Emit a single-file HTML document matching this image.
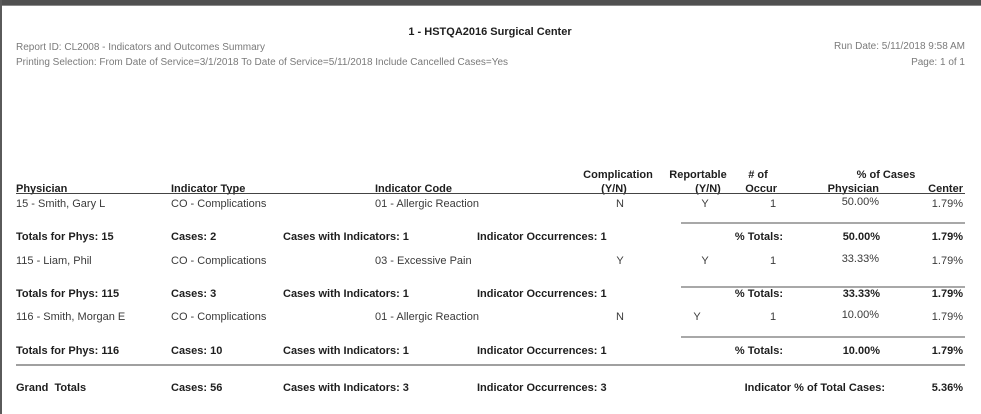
<!DOCTYPE html>
<html><head><meta charset="utf-8"><style>
html,body{margin:0;padding:0;}
body{width:981px;height:414px;background:#fff;position:relative;overflow:hidden;font-family:"Liberation Sans",Arial,sans-serif;}
.t{position:absolute;white-space:pre;font-size:11px;line-height:13px;height:13px;color:#3a3a3a;}
.b{font-weight:bold;color:#1e1e1e;}
.s{font-size:10px;color:#7a7a7a;}
.r{text-align:right;}
.c{text-align:center;}
.ln{position:absolute;}
</style></head><body>
<div class="ln" style="left:0;top:0;width:981px;height:5px;background:#505050;"></div>
<div class="ln" style="left:0;top:5px;width:981px;height:1px;background:#8a8a8a;"></div>
<div class="ln" style="left:0;top:0;width:2px;height:414px;background:#5a5a5a;"></div>

<div class="t b c" style="left:340px;width:300px;top:26px;">1 - HSTQA2016 Surgical Center</div>
<div class="t s" style="left:16px;top:41px;">Report ID: CL2008 - Indicators and Outcomes Summary</div>
<div class="t s" style="left:16px;top:56px;">Printing Selection: From Date of Service=3/1/2018 To Date of Service=5/11/2018 Include Cancelled Cases=Yes</div>
<div class="t s r" style="left:665px;width:300px;top:40px;">Run Date: 5/11/2018 9:58 AM</div>
<div class="t s r" style="left:665px;width:300px;top:56px;">Page: 1 of 1</div>

<!-- header -->
<div class="t b c" style="left:568px;width:100px;top:169px;">Complication</div>
<div class="t b c" style="left:648px;width:100px;top:169px;">Reportable</div>
<div class="t b c" style="left:728px;width:60px;top:169px;">&#35; of</div>
<div class="t b c" style="left:836px;width:100px;top:169px;">% of Cases</div>
<div class="t b" style="left:16px;top:183px;">Physician</div>
<div class="t b" style="left:171px;top:183px;">Indicator Type</div>
<div class="t b" style="left:375px;top:183px;">Indicator Code</div>
<div class="t b c" style="left:584px;width:60px;top:183px;">(Y/N)</div>
<div class="t b c" style="left:678px;width:60px;top:183px;">(Y/N)</div>
<div class="t b r" style="left:677px;width:100px;top:183px;">Occur</div>
<div class="t b r" style="left:779px;width:100px;top:183px;">Physician</div>
<div class="t b r" style="left:863px;width:100px;top:183px;">Center</div>
<div class="ln" style="left:16px;top:193px;width:949px;height:1px;background:#444;"></div>

<!-- row 1 -->
<div class="t" style="left:16px;top:198px;">15 - Smith, Gary L</div>
<div class="t" style="left:171px;top:198px;">CO - Complications</div>
<div class="t" style="left:375px;top:198px;">01 - Allergic Reaction</div>
<div class="t c" style="left:600px;width:40px;top:198px;">N</div>
<div class="t c" style="left:685px;width:40px;top:198px;">Y</div>
<div class="t c" style="left:753px;width:40px;top:198px;">1</div>
<div class="t r" style="left:779px;width:100px;top:196px;">50.00%</div>
<div class="t r" style="left:863px;width:100px;top:198px;">1.79%</div>
<div class="ln" style="left:681px;top:222px;width:284px;height:2px;background:#a8a8a8;"></div>

<div class="t b" style="left:16px;top:231px;">Totals for Phys: 15</div>
<div class="t b" style="left:171px;top:231px;">Cases: 2</div>
<div class="t b" style="left:283px;top:231px;">Cases with Indicators: 1</div>
<div class="t b" style="left:477px;top:231px;">Indicator Occurrences: 1</div>
<div class="t b r" style="left:683px;width:100px;top:231px;">% Totals:</div>
<div class="t b r" style="left:780px;width:100px;top:231px;">50.00%</div>
<div class="t b r" style="left:863px;width:100px;top:231px;">1.79%</div>

<!-- row 2 -->
<div class="t" style="left:16px;top:255px;">115 - Liam, Phil</div>
<div class="t" style="left:171px;top:255px;">CO - Complications</div>
<div class="t" style="left:375px;top:255px;">03 - Excessive Pain</div>
<div class="t c" style="left:600px;width:40px;top:255px;">Y</div>
<div class="t c" style="left:685px;width:40px;top:255px;">Y</div>
<div class="t c" style="left:753px;width:40px;top:255px;">1</div>
<div class="t r" style="left:779px;width:100px;top:253px;">33.33%</div>
<div class="t r" style="left:863px;width:100px;top:255px;">1.79%</div>
<div class="ln" style="left:681px;top:286px;width:284px;height:2px;background:#a8a8a8;"></div>

<div class="t b" style="left:16px;top:288px;">Totals for Phys: 115</div>
<div class="t b" style="left:171px;top:288px;">Cases: 3</div>
<div class="t b" style="left:283px;top:288px;">Cases with Indicators: 1</div>
<div class="t b" style="left:477px;top:288px;">Indicator Occurrences: 1</div>
<div class="t b r" style="left:683px;width:100px;top:288px;">% Totals:</div>
<div class="t b r" style="left:780px;width:100px;top:288px;">33.33%</div>
<div class="t b r" style="left:863px;width:100px;top:288px;">1.79%</div>

<!-- row 3 -->
<div class="t" style="left:16px;top:311px;">116 - Smith, Morgan E</div>
<div class="t" style="left:171px;top:311px;">CO - Complications</div>
<div class="t" style="left:375px;top:311px;">01 - Allergic Reaction</div>
<div class="t c" style="left:600px;width:40px;top:311px;">N</div>
<div class="t c" style="left:677px;width:40px;top:311px;">Y</div>
<div class="t c" style="left:753px;width:40px;top:311px;">1</div>
<div class="t r" style="left:779px;width:100px;top:309px;">10.00%</div>
<div class="t r" style="left:863px;width:100px;top:311px;">1.79%</div>
<div class="ln" style="left:681px;top:336px;width:284px;height:2px;background:#a8a8a8;"></div>

<div class="t b" style="left:16px;top:345px;">Totals for Phys: 116</div>
<div class="t b" style="left:171px;top:345px;">Cases: 10</div>
<div class="t b" style="left:283px;top:345px;">Cases with Indicators: 1</div>
<div class="t b" style="left:477px;top:345px;">Indicator Occurrences: 1</div>
<div class="t b r" style="left:683px;width:100px;top:345px;">% Totals:</div>
<div class="t b r" style="left:780px;width:100px;top:345px;">10.00%</div>
<div class="t b r" style="left:863px;width:100px;top:345px;">1.79%</div>
<div class="ln" style="left:16px;top:364px;width:949px;height:2px;background:#a0a0a0;"></div>

<div class="t b" style="left:16px;top:382px;">Grand  Totals</div>
<div class="t b" style="left:171px;top:382px;">Cases: 56</div>
<div class="t b" style="left:283px;top:382px;">Cases with Indicators: 3</div>
<div class="t b" style="left:477px;top:382px;">Indicator Occurrences: 3</div>
<div class="t b r" style="left:635px;width:250px;top:382px;">Indicator % of Total Cases:</div>
<div class="t b r" style="left:863px;width:100px;top:382px;">5.36%</div>
</body></html>
